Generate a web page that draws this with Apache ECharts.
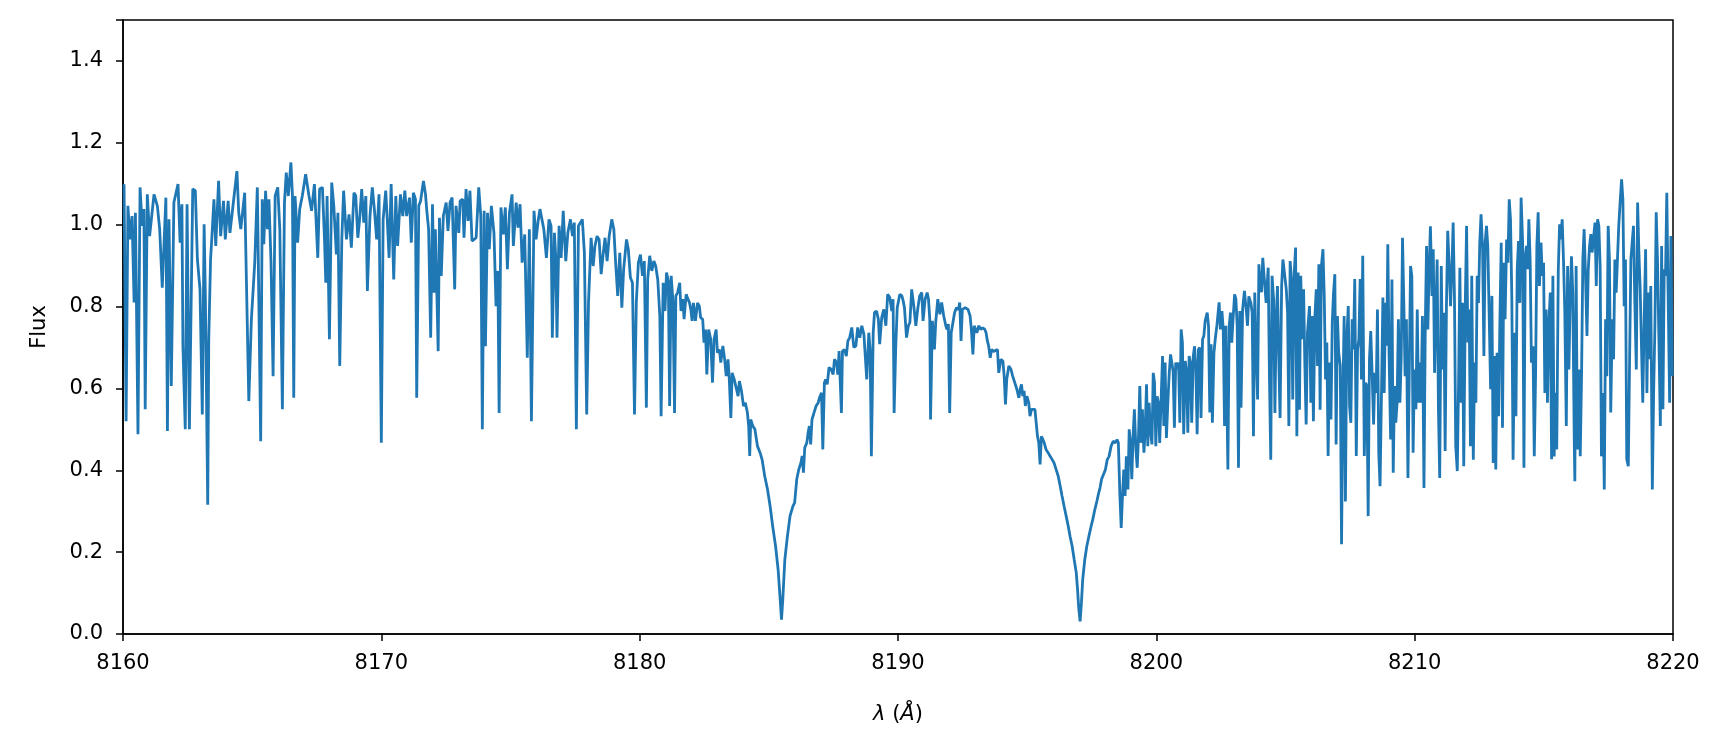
<!DOCTYPE html>
<html>
<head>
<meta charset="utf-8">
<script src="https://cdn.jsdelivr.net/npm/echarts@6/dist/echarts.min.js"></script>
<style>
  html, body { margin: 0; padding: 0; background: #fff; }
  #chart { width: 1727px; height: 748px; }
</style>
</head>
<body>
<div id="chart"></div>
<script>
// wavelength (Å) and normalised flux
const wave = [
  8160.04, 8160.12, 8160.19, 8160.27, 8160.35, 8160.43, 8160.48, 8160.58, 8160.66, 8160.74, 8160.81, 8160.86, 8160.94, 8161.03, 8161.20, 8161.33,
  8161.42, 8161.52, 8161.66, 8161.72, 8161.78, 8161.87, 8161.97, 8162.13, 8162.21, 8162.28, 8162.32, 8162.41, 8162.48, 8162.57, 8162.70, 8162.80,
  8162.88, 8162.98, 8163.07, 8163.14, 8163.19, 8163.28, 8163.32, 8163.39, 8163.45, 8163.52, 8163.59, 8163.70, 8163.78, 8163.89, 8163.96, 8164.07,
  8164.14, 8164.30, 8164.41, 8164.48, 8164.56, 8164.71, 8164.87, 8164.97, 8165.10, 8165.20, 8165.33,
  8165.39, 8165.45, 8165.52, 8165.59, 8165.65, 8165.73, 8165.81, 8165.89, 8165.99, 8166.07, 8166.17, 8166.25, 8166.32, 8166.40, 8166.50, 8166.56,
  8166.61, 8166.66, 8166.76, 8166.84, 8166.94, 8167.07, 8167.20, 8167.30, 8167.41, 8167.54, 8167.61, 8167.72, 8167.80, 8167.85, 8167.90, 8167.99,
  8168.08, 8168.16, 8168.26, 8168.32, 8168.39, 8168.47, 8168.54, 8168.65, 8168.75, 8168.84, 8168.94, 8169.01, 8169.09, 8169.16, 8169.24, 8169.32,
  8169.40, 8169.46, 8169.56, 8169.65, 8169.73, 8169.82, 8169.91, 8170.00, 8170.07, 8170.17, 8170.23, 8170.30, 8170.38, 8170.48, 8170.56, 8170.63, 8170.74,
  8170.83, 8170.91, 8170.98, 8171.09, 8171.16, 8171.24, 8171.32, 8171.37, 8171.45, 8171.52, 8171.63, 8171.71, 8171.76, 8171.83, 8171.91, 8171.98,
  8172.04, 8172.09, 8172.14, 8172.20, 8172.25, 8172.32, 8172.40, 8172.51, 8172.58, 8172.66, 8172.74, 8172.84, 8172.89, 8173.00, 8173.05, 8173.15,
  8173.20, 8173.28, 8173.36, 8173.43, 8173.51, 8173.67, 8173.77, 8173.85, 8173.91, 8173.98, 8174.03, 8174.11, 8174.18, 8174.26, 8174.36, 8174.44,
  8174.51, 8174.56, 8174.63, 8174.72, 8174.80, 8174.88, 8174.96, 8175.06, 8175.11, 8175.22, 8175.29, 8175.37, 8175.45, 8175.55, 8175.65, 8175.73,
  8175.81, 8175.91, 8175.99, 8176.07, 8176.14,
  8176.21, 8176.29, 8176.39, 8176.49, 8176.57, 8176.62, 8176.70, 8176.75, 8176.80, 8176.88, 8176.96, 8177.04, 8177.14, 8177.22, 8177.32, 8177.40,
  8177.47, 8177.55, 8177.63, 8177.71, 8177.78, 8177.86, 8177.95, 8178.02, 8178.12, 8178.20, 8178.27, 8178.35, 8178.43, 8178.51, 8178.58, 8178.66,
  8178.74, 8178.82, 8178.92, 8179.00, 8179.07, 8179.15, 8179.23, 8179.31, 8179.38, 8179.49, 8179.56, 8179.64, 8179.72, 8179.80, 8179.87, 8179.95,
  8180.03, 8180.11, 8180.18, 8180.26, 8180.31, 8180.39, 8180.47, 8180.55, 8180.62, 8180.70, 8180.78, 8180.83, 8180.91, 8180.98, 8181.04, 8181.11,
  8181.16, 8181.22, 8181.29, 8181.35, 8181.40, 8181.47, 8181.55, 8181.60,
  8181.67, 8181.72, 8181.80, 8181.87, 8181.93, 8181.98, 8182.03, 8182.08, 8182.16, 8182.24, 8182.31, 8182.36, 8182.44, 8182.49, 8182.55, 8182.60,
  8182.67, 8182.75, 8182.82, 8182.88, 8182.96, 8183.01, 8183.09, 8183.14, 8183.22, 8183.29, 8183.35, 8183.42, 8183.47, 8183.53, 8183.58, 8183.66,
  8183.73, 8183.81, 8183.86, 8183.94, 8184.02, 8184.09, 8184.17, 8184.22, 8184.26, 8184.30, 8184.38, 8184.46, 8184.56, 8184.66, 8184.74, 8184.84,
  8184.95, 8185.05, 8185.15, 8185.26, 8185.36, 8185.44, 8185.49, 8185.54, 8185.62, 8185.72, 8185.82, 8185.93, 8186.00, 8186.08, 8186.16, 8186.24,
  8186.29, 8186.34, 8186.39, 8186.47, 8186.52, 8186.57, 8186.62, 8186.67, 8186.75, 8186.83, 8186.91, 8186.96, 8187.04, 8187.09,
  8187.15, 8187.20, 8187.26, 8187.33, 8187.41, 8187.49, 8187.54, 8187.62, 8187.67, 8187.72, 8187.77, 8187.81, 8187.85, 8187.93, 8188.00, 8188.06,
  8188.13, 8188.21, 8188.29, 8188.37, 8188.44, 8188.52, 8188.60, 8188.68, 8188.75, 8188.79, 8188.87, 8188.92, 8188.97, 8189.04, 8189.09, 8189.17,
  8189.24, 8189.29, 8189.37, 8189.45, 8189.53, 8189.60, 8189.68, 8189.76, 8189.81, 8189.85, 8189.91, 8189.97, 8190.07, 8190.15, 8190.20, 8190.25,
  8190.33, 8190.40, 8190.46, 8190.53, 8190.61, 8190.69, 8190.77, 8190.84, 8190.92, 8190.97, 8191.05, 8191.13, 8191.18, 8191.23, 8191.26, 8191.33,
  8191.41, 8191.46, 8191.54, 8191.62, 8191.69, 8191.77, 8191.85, 8191.90, 8191.95, 8192.00, 8192.06, 8192.13, 8192.19, 8192.26, 8192.34, 8192.39,
  8192.44, 8192.49, 8192.60,
  8192.64, 8192.71, 8192.79, 8192.84, 8192.90, 8192.95, 8193.00, 8193.05, 8193.13, 8193.20, 8193.28, 8193.36, 8193.41, 8193.46, 8193.51, 8193.57,
  8193.62, 8193.70, 8193.77, 8193.85, 8193.90, 8193.98, 8194.06, 8194.11, 8194.16, 8194.21, 8194.29, 8194.37, 8194.44, 8194.52, 8194.60, 8194.68,
  8194.73, 8194.78, 8194.83, 8194.88, 8194.93, 8194.99, 8195.06, 8195.11, 8195.17, 8195.22, 8195.30, 8195.35, 8195.40, 8195.45, 8195.50, 8195.55,
  8195.61, 8195.66, 8195.73, 8195.81, 8195.89, 8195.97, 8196.04, 8196.12, 8196.20, 8196.28, 8196.35, 8196.43, 8196.51, 8196.59, 8196.66, 8196.74,
  8196.82, 8196.90, 8196.95, 8197.00, 8197.05, 8197.10, 8197.15, 8197.23, 8197.31, 8197.39, 8197.46, 8197.54, 8197.62, 8197.70, 8197.77, 8197.82,
  8197.88, 8197.93, 8197.98, 8198.03,
  8198.10, 8198.17, 8198.25, 8198.33, 8198.41, 8198.48, 8198.53, 8198.59, 8198.64, 8198.69, 8198.74, 8198.79, 8198.84, 8198.90, 8198.95, 8199.00,
  8199.05, 8199.10, 8199.15, 8199.21, 8199.26, 8199.31, 8199.36, 8199.41, 8199.46, 8199.52, 8199.57, 8199.62, 8199.67, 8199.72, 8199.77, 8199.83,
  8199.88, 8199.93, 8199.98, 8200.03, 8200.08, 8200.13, 8200.19, 8200.24, 8200.29, 8200.34, 8200.39, 8200.44, 8200.50, 8200.55, 8200.60, 8200.65,
  8200.70, 8200.75, 8200.81, 8200.86, 8200.91, 8200.96, 8201.01, 8201.06, 8201.12, 8201.17, 8201.22, 8201.27, 8201.32, 8201.37, 8201.43, 8201.48,
  8201.53, 8201.58, 8201.63, 8201.68, 8201.73, 8201.79, 8201.84, 8201.89, 8201.97, 8202.02, 8202.07, 8202.12, 8202.17, 8202.23, 8202.28, 8202.35,
  8202.43, 8202.48, 8202.54, 8202.59, 8202.64, 8202.69, 8202.77, 8202.82, 8202.87, 8202.92, 8202.97, 8203.03, 8203.08, 8203.13, 8203.18, 8203.23,
  8203.28, 8203.34, 8203.41, 8203.49,
  8203.53, 8203.58, 8203.66, 8203.71, 8203.76, 8203.81, 8203.86, 8203.92, 8203.97, 8204.02, 8204.07, 8204.12, 8204.17, 8204.25, 8204.33, 8204.38,
  8204.43, 8204.48, 8204.54, 8204.59, 8204.64, 8204.69, 8204.74, 8204.79, 8204.85, 8204.90, 8204.97, 8205.03, 8205.08, 8205.13, 8205.18, 8205.23,
  8205.28, 8205.34, 8205.39, 8205.44, 8205.49, 8205.54, 8205.59, 8205.65, 8205.70, 8205.75, 8205.80, 8205.85, 8205.93, 8205.98, 8206.03, 8206.08,
  8206.14, 8206.19, 8206.24, 8206.29, 8206.34, 8206.39, 8206.45, 8206.50, 8206.55, 8206.60, 8206.65, 8206.70, 8206.76, 8206.81, 8206.86, 8206.91,
  8206.96, 8207.01, 8207.06, 8207.12, 8207.17, 8207.22, 8207.27, 8207.32, 8207.37, 8207.43, 8207.48, 8207.53, 8207.58, 8207.63, 8207.68, 8207.74,
  8207.79, 8207.84, 8207.89, 8207.94, 8207.99, 8208.05, 8208.10, 8208.15, 8208.20, 8208.25, 8208.30, 8208.36, 8208.41, 8208.46, 8208.51, 8208.56,
  8208.61, 8208.66, 8208.72, 8208.77, 8208.82, 8208.87, 8208.92,
  8208.96, 8209.01, 8209.07, 8209.12, 8209.17, 8209.22, 8209.27, 8209.32, 8209.37, 8209.43, 8209.48, 8209.53, 8209.58, 8209.63, 8209.68, 8209.74,
  8209.79, 8209.84, 8209.89, 8209.94, 8209.99, 8210.05, 8210.10, 8210.15, 8210.20, 8210.25, 8210.30, 8210.36, 8210.41, 8210.46, 8210.51, 8210.56,
  8210.61, 8210.67, 8210.72, 8210.77, 8210.82, 8210.87, 8210.92, 8210.97, 8211.03, 8211.08, 8211.13, 8211.18, 8211.23, 8211.28, 8211.34, 8211.39,
  8211.44, 8211.49, 8211.54, 8211.59, 8211.65, 8211.70, 8211.75, 8211.80, 8211.85, 8211.90, 8211.96, 8212.01, 8212.06, 8212.11, 8212.16, 8212.21,
  8212.27, 8212.32, 8212.37, 8212.42, 8212.47, 8212.52, 8212.57, 8212.63, 8212.68, 8212.73, 8212.78, 8212.83, 8212.88, 8212.94, 8212.99, 8213.04,
  8213.09, 8213.14, 8213.19, 8213.25, 8213.30, 8213.35, 8213.40, 8213.45, 8213.50, 8213.56, 8213.61, 8213.66, 8213.71, 8213.76, 8213.81, 8213.87,
  8213.92, 8213.97, 8214.02, 8214.07, 8214.12, 8214.18, 8214.23, 8214.28, 8214.33, 8214.38,
  8214.42, 8214.47, 8214.52, 8214.58, 8214.63, 8214.68, 8214.73, 8214.78, 8214.83, 8214.89, 8214.94, 8214.99, 8215.04, 8215.09, 8215.14, 8215.19,
  8215.25, 8215.30, 8215.35, 8215.40, 8215.45, 8215.50, 8215.56, 8215.61, 8215.66, 8215.71, 8215.76, 8215.81, 8215.87, 8215.92, 8215.97, 8216.02,
  8216.07, 8216.12, 8216.18, 8216.20, 8216.25, 8216.30, 8216.36, 8216.41, 8216.46, 8216.51, 8216.56, 8216.61, 8216.67, 8216.72, 8216.77, 8216.82,
  8216.87, 8216.92, 8216.98, 8217.03, 8217.08, 8217.13, 8217.18, 8217.23, 8217.29, 8217.34, 8217.39, 8217.44, 8217.49, 8217.54, 8217.59, 8217.65,
  8217.70, 8217.75, 8217.80, 8217.85, 8217.90, 8217.96, 8218.01, 8218.06, 8218.11, 8218.16, 8218.21, 8218.27, 8218.32, 8218.37, 8218.42, 8218.47,
  8218.52, 8218.58, 8218.63, 8218.68, 8218.73, 8218.78, 8218.83, 8218.89, 8218.94, 8218.99, 8219.04, 8219.09, 8219.14, 8219.20, 8219.25, 8219.30,
  8219.35, 8219.40, 8219.45, 8219.51, 8219.56, 8219.61, 8219.66, 8219.71, 8219.76, 8219.81, 8219.87, 8219.92, 8219.97
]
const flux = [
  1.099, 0.520, 1.046, 0.964, 1.021, 0.810, 1.029, 0.488, 1.091, 0.997, 1.038, 0.549, 1.074, 0.972, 1.074, 1.046,
  0.989, 0.846, 1.066, 0.496, 1.013, 0.606, 1.054, 1.099, 0.956, 1.050, 0.703, 0.500, 1.050, 0.500, 1.087, 1.083,
  0.915, 0.842, 0.536, 1.001, 0.818, 0.316, 0.720, 0.915, 0.980, 1.062, 0.948, 1.107, 0.972, 1.058, 0.964, 1.058,
  0.980, 1.070, 1.131, 1.029, 0.989, 1.078, 0.569, 0.769, 0.907, 1.091, 0.471,
  1.062, 0.952, 1.083, 0.989, 1.062, 0.907, 0.630, 1.070, 1.091, 0.989, 0.549, 1.054, 1.127, 1.070, 1.152, 1.070,
  0.577, 1.070, 0.956, 1.038, 1.070, 1.123, 1.070, 1.034, 1.099, 0.919, 1.087, 1.091, 0.964, 0.858, 1.070, 0.720,
  1.103, 1.046, 0.927, 1.029, 0.655, 0.964, 1.083, 0.964, 1.025, 0.944, 1.078, 1.070, 0.968, 1.013, 1.087, 1.005,
  1.070, 0.838, 1.021, 1.091, 1.038, 0.964, 1.074, 0.467, 1.013, 1.083, 1.013, 0.919, 1.099, 0.866, 1.070, 0.948, 1.074,
  1.021, 1.083, 1.021, 1.066, 0.956, 1.078, 1.062, 0.577, 1.046, 1.058, 1.107, 1.074, 1.034, 0.989, 0.724, 1.050,
  0.834, 0.989, 0.858, 0.691, 1.017, 0.875, 1.021, 1.054, 0.985, 1.054, 1.066, 0.842, 1.046, 0.980, 1.058, 1.062,
  0.968, 1.087, 1.009, 1.083, 0.960, 0.968, 1.091, 1.021, 0.500, 1.034, 0.703, 1.029, 0.940, 1.046, 0.980, 0.801,
  0.887, 0.540, 1.042, 0.976, 1.042, 0.891, 1.029, 1.074, 0.948, 1.054, 0.993, 1.050, 0.907, 0.976, 0.675, 0.989,
  0.520, 1.034, 0.964, 1.009, 1.038,
  1.034, 0.989, 0.919, 1.013, 0.997, 0.724, 0.980, 0.924, 0.724, 0.997, 0.919, 1.034, 0.911, 0.980, 1.013, 0.972,
  1.005, 0.500, 0.997, 1.005, 1.013, 0.931, 0.536, 0.810, 0.968, 0.899, 0.948, 0.972, 0.964, 0.879, 0.924, 0.968,
  0.911, 0.972, 1.013, 0.989, 0.907, 0.826, 0.931, 0.797, 0.891, 0.964, 0.940, 0.871, 0.858, 0.536, 0.810, 0.907,
  0.927, 0.875, 0.911, 0.553, 0.866, 0.924, 0.887, 0.911, 0.899, 0.866, 0.777, 0.532, 0.858, 0.789, 0.883, 0.862,
  0.557, 0.875, 0.810, 0.540, 0.826, 0.834, 0.858, 0.789,
  0.818, 0.769, 0.830, 0.818, 0.809, 0.793, 0.765, 0.809, 0.765, 0.809, 0.801, 0.773, 0.769, 0.712, 0.744, 0.634,
  0.744, 0.720, 0.614, 0.720, 0.744, 0.687, 0.695, 0.663, 0.704, 0.671, 0.630, 0.671, 0.622, 0.528, 0.638, 0.622,
  0.618, 0.581, 0.618, 0.594, 0.557, 0.565, 0.541, 0.508, 0.435, 0.524, 0.508, 0.500, 0.459, 0.443, 0.426, 0.386,
  0.353, 0.312, 0.263, 0.215, 0.157, 0.084, 0.035, 0.084, 0.182, 0.239, 0.288, 0.312, 0.321, 0.378, 0.402, 0.418,
  0.435, 0.394, 0.455, 0.467, 0.492, 0.508, 0.463, 0.524, 0.541, 0.557, 0.565, 0.577, 0.589, 0.451,
  0.614, 0.622, 0.610, 0.651, 0.647, 0.634, 0.671, 0.663, 0.634, 0.691, 0.687, 0.540, 0.691, 0.695, 0.679, 0.716,
  0.724, 0.749, 0.700, 0.704, 0.749, 0.724, 0.753, 0.732, 0.728, 0.622, 0.736, 0.695, 0.434, 0.736, 0.785, 0.789,
  0.769, 0.708, 0.773, 0.793, 0.753, 0.830, 0.822, 0.789, 0.818, 0.540, 0.695, 0.797, 0.830, 0.826, 0.814, 0.797,
  0.724, 0.753, 0.761, 0.842, 0.802, 0.753, 0.797, 0.826, 0.834, 0.765, 0.818, 0.834, 0.818, 0.769, 0.524, 0.765,
  0.695, 0.761, 0.818, 0.781, 0.810, 0.777, 0.753, 0.744, 0.757, 0.540, 0.736, 0.740, 0.785, 0.797, 0.793, 0.810,
  0.716, 0.793, 0.797,
  0.797, 0.793, 0.777, 0.744, 0.683, 0.753, 0.757, 0.736, 0.753, 0.744, 0.748, 0.744, 0.736, 0.716, 0.703, 0.675,
  0.695, 0.690, 0.687, 0.695, 0.638, 0.671, 0.667, 0.630, 0.561, 0.622, 0.655, 0.647, 0.630, 0.614, 0.598, 0.577,
  0.598, 0.610, 0.581, 0.594, 0.557, 0.581, 0.565, 0.532, 0.549, 0.545, 0.549, 0.516, 0.483, 0.467, 0.414, 0.483,
  0.475, 0.467, 0.451, 0.443, 0.434, 0.426, 0.418, 0.402, 0.386, 0.361, 0.337, 0.312, 0.288, 0.263, 0.239, 0.215,
  0.182, 0.150, 0.109, 0.060, 0.031, 0.076, 0.133, 0.182, 0.215, 0.239, 0.259, 0.280, 0.304, 0.325, 0.345, 0.357,
  0.378, 0.386, 0.394, 0.402,
  0.426, 0.434, 0.459, 0.471, 0.467, 0.475, 0.467, 0.337, 0.259, 0.337, 0.402, 0.337, 0.434, 0.353, 0.500, 0.467,
  0.378, 0.483, 0.549, 0.451, 0.406, 0.483, 0.606, 0.467, 0.549, 0.443, 0.500, 0.610, 0.459, 0.565, 0.500, 0.463,
  0.638, 0.614, 0.459, 0.581, 0.565, 0.467, 0.581, 0.679, 0.508, 0.663, 0.479, 0.557, 0.638, 0.683, 0.687, 0.642,
  0.504, 0.663, 0.647, 0.663, 0.516, 0.744, 0.712, 0.488, 0.667, 0.638, 0.492, 0.679, 0.663, 0.516, 0.679, 0.703,
  0.647, 0.488, 0.695, 0.700, 0.528, 0.720, 0.728, 0.765, 0.785, 0.753, 0.541, 0.708, 0.516, 0.687, 0.720, 0.757,
  0.810, 0.744, 0.789, 0.744, 0.508, 0.753, 0.402, 0.753, 0.785, 0.712, 0.769, 0.830, 0.818, 0.753, 0.406, 0.789,
  0.553, 0.793, 0.838, 0.785,
  0.753, 0.825, 0.809, 0.785, 0.483, 0.834, 0.704, 0.573, 0.903, 0.850, 0.835, 0.919, 0.875, 0.809, 0.895, 0.622,
  0.426, 0.875, 0.817, 0.540, 0.769, 0.850, 0.671, 0.528, 0.850, 0.915, 0.911, 0.842, 0.785, 0.508, 0.911, 0.867,
  0.573, 0.883, 0.944, 0.483, 0.883, 0.548, 0.875, 0.720, 0.842, 0.655, 0.512, 0.736, 0.801, 0.565, 0.777, 0.520,
  0.777, 0.842, 0.655, 0.903, 0.548, 0.899, 0.940, 0.825, 0.622, 0.712, 0.435, 0.663, 0.524, 0.761, 0.834, 0.879,
  0.463, 0.777, 0.687, 0.655, 0.219, 0.573, 0.777, 0.324, 0.720, 0.801, 0.557, 0.516, 0.769, 0.695, 0.867, 0.435,
  0.695, 0.720, 0.867, 0.622, 0.924, 0.435, 0.614, 0.606, 0.288, 0.671, 0.740, 0.622, 0.512, 0.638, 0.589, 0.793,
  0.443, 0.361, 0.606, 0.822, 0.589, 0.809, 0.704,
  0.952, 0.679, 0.475, 0.866, 0.394, 0.606, 0.516, 0.565, 0.769, 0.565, 0.679, 0.968, 0.809, 0.630, 0.769, 0.381,
  0.630, 0.899, 0.875, 0.443, 0.646, 0.549, 0.793, 0.565, 0.663, 0.565, 0.777, 0.357, 0.744, 0.948, 0.744, 0.891,
  0.996, 0.826, 0.940, 0.638, 0.785, 0.915, 0.549, 0.381, 0.899, 0.646, 0.785, 0.447, 0.801, 0.985, 0.891, 0.801,
  0.891, 1.005, 0.826, 0.459, 0.398, 0.614, 0.895, 0.565, 0.809, 0.410, 0.809, 0.997, 0.712, 0.793, 0.459, 0.875,
  0.426, 0.663, 0.565, 0.875, 0.809, 0.956, 1.025, 0.940, 0.679, 0.956, 0.997, 0.948, 0.793, 0.598, 0.826, 0.418,
  0.679, 0.402, 0.687, 0.532, 0.769, 0.956, 0.504, 0.907, 0.769, 0.964, 0.907, 1.062, 1.013, 0.826, 0.426, 0.736,
  0.532, 0.891, 0.960, 0.809, 1.066, 0.956, 0.406, 0.923, 0.948, 0.891,
  1.013, 0.915, 0.663, 0.703, 0.434, 0.630, 0.948, 1.030, 0.850, 0.956, 0.875, 0.907, 0.589, 0.793, 0.565, 0.752,
  0.834, 0.427, 0.875, 0.434, 0.589, 0.451, 0.891, 1.001, 0.964, 1.013, 0.915, 0.793, 0.508, 0.899, 0.646, 0.818,
  0.923, 0.834, 0.459, 0.373, 0.899, 0.451, 0.646, 0.434, 0.630, 0.915, 0.989, 0.883, 0.728, 0.891, 0.948, 0.977,
  0.932, 0.964, 1.005, 0.850, 1.013, 0.997, 0.899, 0.434, 0.589, 0.353, 0.769, 0.630, 0.997, 0.915, 0.541, 0.769,
  0.671, 0.915, 0.834, 0.915, 0.997, 1.062, 1.111, 1.062, 0.801, 0.915, 0.427, 0.410, 0.671, 0.915, 0.956, 0.997,
  0.818, 0.646, 1.054, 0.932, 0.842, 0.703, 0.565, 0.785, 0.940, 0.589, 0.834, 0.671, 0.850, 0.353, 0.589, 0.752,
  1.030, 0.915, 0.736, 0.508, 0.948, 0.549, 0.891, 0.875, 1.078, 0.834, 0.565, 0.972, 0.630
]

const xRange = [8160, 8220]
const xStep = 10
const yRange = [0, 1.5]
const yStep = 0.2

const font = 'DejaVu Sans'
const fontSize = 21
const chart = echarts.init(document.getElementById('chart'))

chart.setOption({
  animation: false,
  backgroundColor: '#fff',
  grid: { left: 123, right: 54, top: 20, bottom: 114, show: true, borderColor: '#000', borderWidth: 1.5 },
  xAxis: {
    type: 'value',
    min: xRange[0],
    max: xRange[1],
    interval: xStep,
    name: '{i|λ} ({i|Å})',
    nameLocation: 'middle',
    nameGap: 70,
    nameTextStyle: {
      fontFamily: font, fontSize, color: '#000',
      rich: { i: { fontFamily: font, fontSize, fontStyle: 'italic', color: '#000' } }
    },
    axisLine: { lineStyle: { color: '#000', width: 1.5 } },
    axisTick: { length: 7, lineStyle: { color: '#000', width: 1.5 } },
    axisLabel: { fontFamily: font, fontSize, color: '#000', margin: 19, formatter: v => String(v) },
    splitLine: { show: false }
  },
  yAxis: {
    type: 'value',
    min: yRange[0],
    max: yRange[1],
    interval: yStep,
    name: 'Flux',
    nameLocation: 'middle',
    nameGap: 73,
    nameTextStyle: { fontFamily: font, fontSize, color: '#000' },
    axisLine: { lineStyle: { color: '#000', width: 1.5 } },
    axisTick: { length: 7, lineStyle: { color: '#000', width: 1.5 } },
    axisLabel: {
      fontFamily: font, fontSize, color: '#000', margin: 20,
      formatter: v => (v > 1.45 ? '' : v.toFixed(1))
    },
    splitLine: { show: false }
  },
  series: [{
    type: 'line',
    data: wave.map((w, i) => [w, flux[i]]),
    showSymbol: false,
    clip: true,
    lineStyle: { color: '#1f77b4', width: 2.8 },
    itemStyle: { color: '#1f77b4' }
  }]
})
</script>
</body>
</html>
